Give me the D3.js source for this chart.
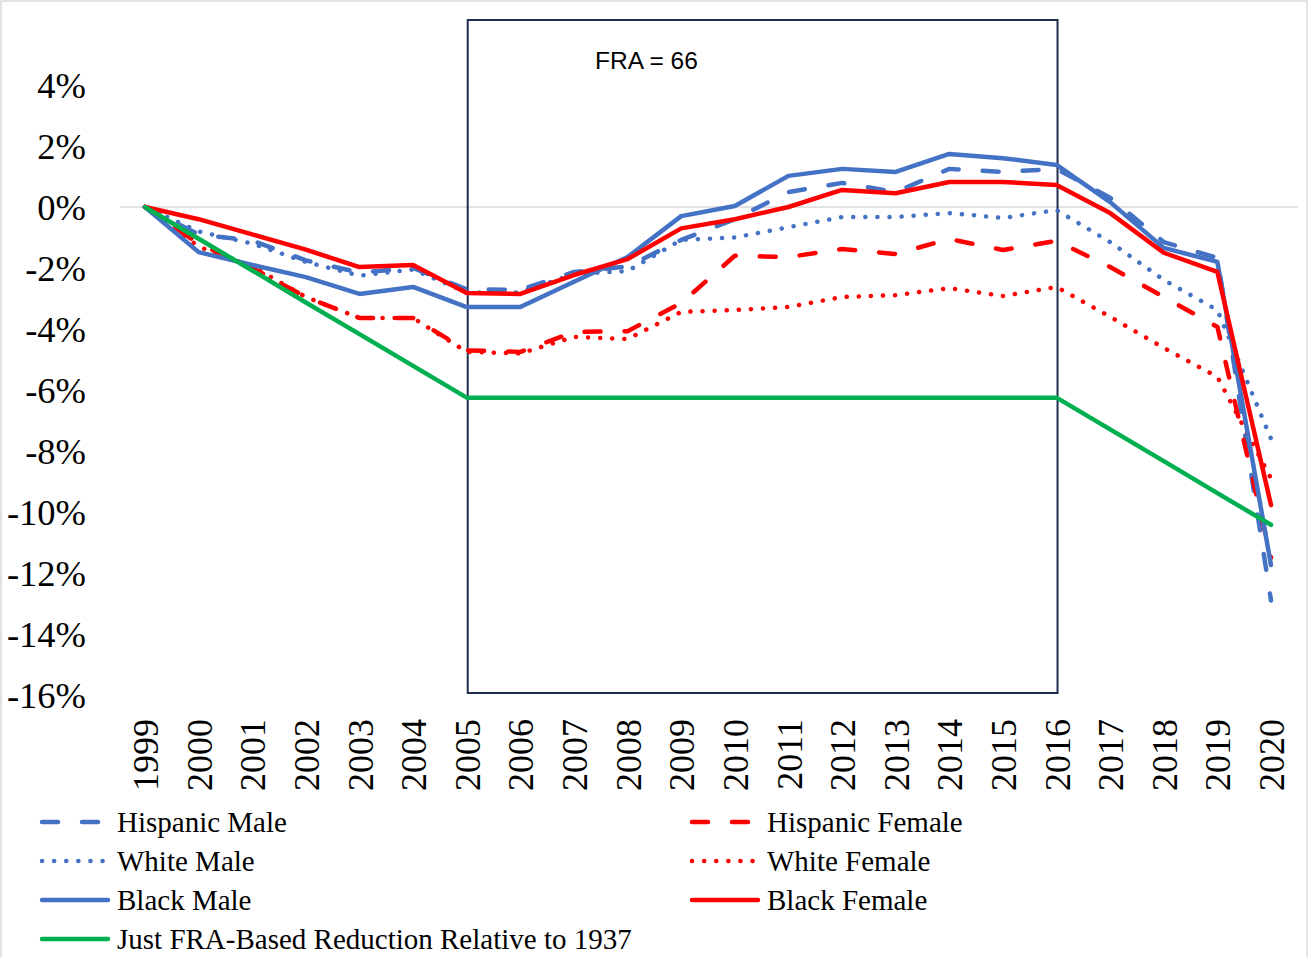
<!DOCTYPE html>
<html>
<head>
<meta charset="utf-8">
<script src="https://cdn.jsdelivr.net/npm/d3@7"></script>
<style>
  body { margin: 0; background: #fff; }
  #chart { width: 1308px; height: 957px; }
</style>
</head>
<body>
<div id="chart"></div>
<script>
// Years on the x axis
const years = [1999, 2000, 2001, 2002, 2003, 2004, 2005, 2006, 2007, 2008, 2009,
               2010, 2011, 2012, 2013, 2014, 2015, 2016, 2017, 2018, 2019, 2020];

// Series values (percent change relative to 1999)
const hispanicMale   = [0, -0.9, -1.1, -1.75, -2.15, -2.0, -2.7, -2.72, -2.13, -1.95, -1.08, -0.4, 0.49, 0.79, 0.49, 1.25, 1.15, 1.25, 0.3, -1.15, -1.67, -12.9];
const hispanicFemale = [0, -1.2, -2.0, -2.95, -3.64, -3.64, -4.7, -4.75, -4.1, -4.07, -3.15, -1.6, -1.64, -1.38, -1.54, -1.05, -1.41, -1.11, -1.97, -2.95, -3.93, -11.5];
const whiteMale      = [0, -0.8, -1.2, -1.8, -2.25, -2.05, -2.8, -2.8, -2.2, -2.1, -1.08, -1.0, -0.66, -0.33, -0.33, -0.2, -0.36, -0.1, -1.15, -2.39, -3.38, -7.6];
const whiteFemale    = [0, -1.3, -1.95, -2.95, -3.64, -3.64, -4.75, -4.8, -4.26, -4.33, -3.44, -3.38, -3.28, -2.95, -2.89, -2.66, -2.92, -2.62, -3.6, -4.62, -5.57, -8.9];
const blackMale      = [0, -1.48, -1.9, -2.3, -2.85, -2.62, -3.28, -3.28, -2.45, -1.64, -0.3, 0.03, 1.02, 1.25, 1.15, 1.74, 1.6, 1.38, 0.16, -1.34, -1.8, -11.74];
const blackFemale    = [0, -0.4, -0.9, -1.4, -1.97, -1.9, -2.82, -2.85, -2.23, -1.71, -0.7, -0.4, 0.0, 0.56, 0.45, 0.82, 0.82, 0.72, -0.2, -1.5, -2.13, -9.77];
const fraReduction   = [0, -1.04, -2.08, -3.13, -4.17, -5.21, -6.25, -6.25, -6.25, -6.25, -6.25, -6.25, -6.25, -6.25, -6.25, -6.25, -6.25, -6.25, -7.29, -8.33, -9.38, -10.42];

// Y tick values
const yTicks = [4, 2, 0, -2, -4, -6, -8, -10, -12, -14, -16];

// FRA window
const fraStart = 2005;
const fraEnd = 2016;
const fraLabel = 'FRA = 66';

const BLUE = '#4472C4';
const RED = '#FF0000';
const GREEN = '#00B050';
const DASH = '16 24';
const DOT = '0.1 12';

// Series in Excel order (drawing + legend)
const series = [
    { name: 'Hispanic Male', values: hispanicMale, color: BLUE, dash: DASH },
    { name: 'Hispanic Female', values: hispanicFemale, color: RED, dash: DASH },
    { name: 'White Male', values: whiteMale, color: BLUE, dash: DOT },
    { name: 'White Female', values: whiteFemale, color: RED, dash: DOT },
    { name: 'Black Male', values: blackMale, color: BLUE, dash: null },
    { name: 'Black Female', values: blackFemale, color: RED, dash: null },
    { name: 'Just FRA-Based Reduction Relative to 1937', values: fraReduction, color: GREEN, dash: null }
];

const width = 1308;
const height = 957;
const serif = '"Liberation Serif", "Times New Roman", serif';

const svg = d3.select('#chart').append('svg')
    .attr('width', width)
    .attr('height', height);

// Chart border
svg.append('rect')
    .attr('x', 1).attr('y', 1)
    .attr('width', width - 2).attr('height', height + 20)
    .attr('fill', 'white')
    .attr('stroke', '#d9d9d9')
    .attr('stroke-width', 1.5);

// Scales
const x = d3.scalePoint().domain(years).range([145, 1271]);
const y = d3.scaleLinear().domain([-16, 4]).range([695, 85]);

// Zero gridline
svg.append('line')
    .attr('x1', 120).attr('x2', 1298)
    .attr('y1', y(0)).attr('y2', y(0))
    .attr('stroke', '#d9d9d9')
    .attr('stroke-width', 1.5);

// Y axis labels
const yAxis = d3.axisLeft(y).tickValues(yTicks).tickSize(0).tickPadding(0)
    .tickFormat(d => d + '%');
const yg = svg.append('g')
    .attr('transform', 'translate(86,0)')
    .call(yAxis);
yg.select('.domain').remove();
yg.selectAll('text')
    .attr('dy', '0.33em')
    .style('font-family', serif)
    .style('font-size', '36.5px')
    .style('fill', '#000');

// X axis labels (rotated)
const xAxis = d3.axisBottom(x).tickSize(0).tickPadding(0).tickFormat(d3.format('d'));
const xg = svg.append('g')
    .attr('transform', 'translate(0,719)')
    .call(xAxis);
xg.select('.domain').remove();
xg.selectAll('text')
    .attr('transform', 'rotate(-90)')
    .attr('x', 0)
    .attr('y', 0)
    .attr('dy', '0.35em')
    .attr('text-anchor', 'end')
    .style('font-family', serif)
    .style('font-size', '36px')
    .style('fill', '#000');

// FRA box
svg.append('rect')
    .attr('x', x(fraStart) + 1)
    .attr('y', 20)
    .attr('width', x(fraEnd) - x(fraStart))
    .attr('height', y(-16) - 2 - 20)
    .attr('fill', 'none')
    .attr('stroke', '#1F2D4F')
    .attr('stroke-width', 2);

svg.append('text')
    .attr('x', 595)
    .attr('y', 69)
    .style('font-family', '"Liberation Sans", Arial, sans-serif')
    .style('font-size', '24.5px')
    .style('fill', '#000')
    .text(fraLabel);

// Lines
const line = d3.line()
    .x((d, i) => x(years[i]))
    .y(d => y(d));

svg.selectAll('.series')
    .data(series)
    .enter()
    .append('path')
    .attr('class', 'series')
    .attr('d', d => line(d.values))
    .attr('fill', 'none')
    .attr('stroke', d => d.color)
    .attr('stroke-width', 4.5)
    .attr('stroke-linejoin', 'round')
    .attr('stroke-linecap', 'round')
    .attr('stroke-dasharray', d => d.dash);

// Legend: two columns, filled row by row
const legend = svg.append('g').attr('class', 'legend');
const legendCols = [40, 690];
const legendRows = [822, 861, 900, 939];

series.forEach((s, i) => {
    const lx = legendCols[i % 2];
    const ly = legendRows[Math.floor(i / 2)];
    legend.append('line')
        .attr('x1', lx + 2).attr('x2', lx + 68)
        .attr('y1', ly).attr('y2', ly)
        .attr('stroke', s.color)
        .attr('stroke-width', 4.5)
        .attr('stroke-linecap', 'round')
        .attr('stroke-dasharray', s.dash);
    legend.append('text')
        .attr('x', lx + 77)
        .attr('y', ly)
        .attr('dy', '0.35em')
        .style('font-family', serif)
        .style('font-size', '29px')
        .style('fill', '#000')
        .text(s.name);
});
</script>
</body>
</html>
